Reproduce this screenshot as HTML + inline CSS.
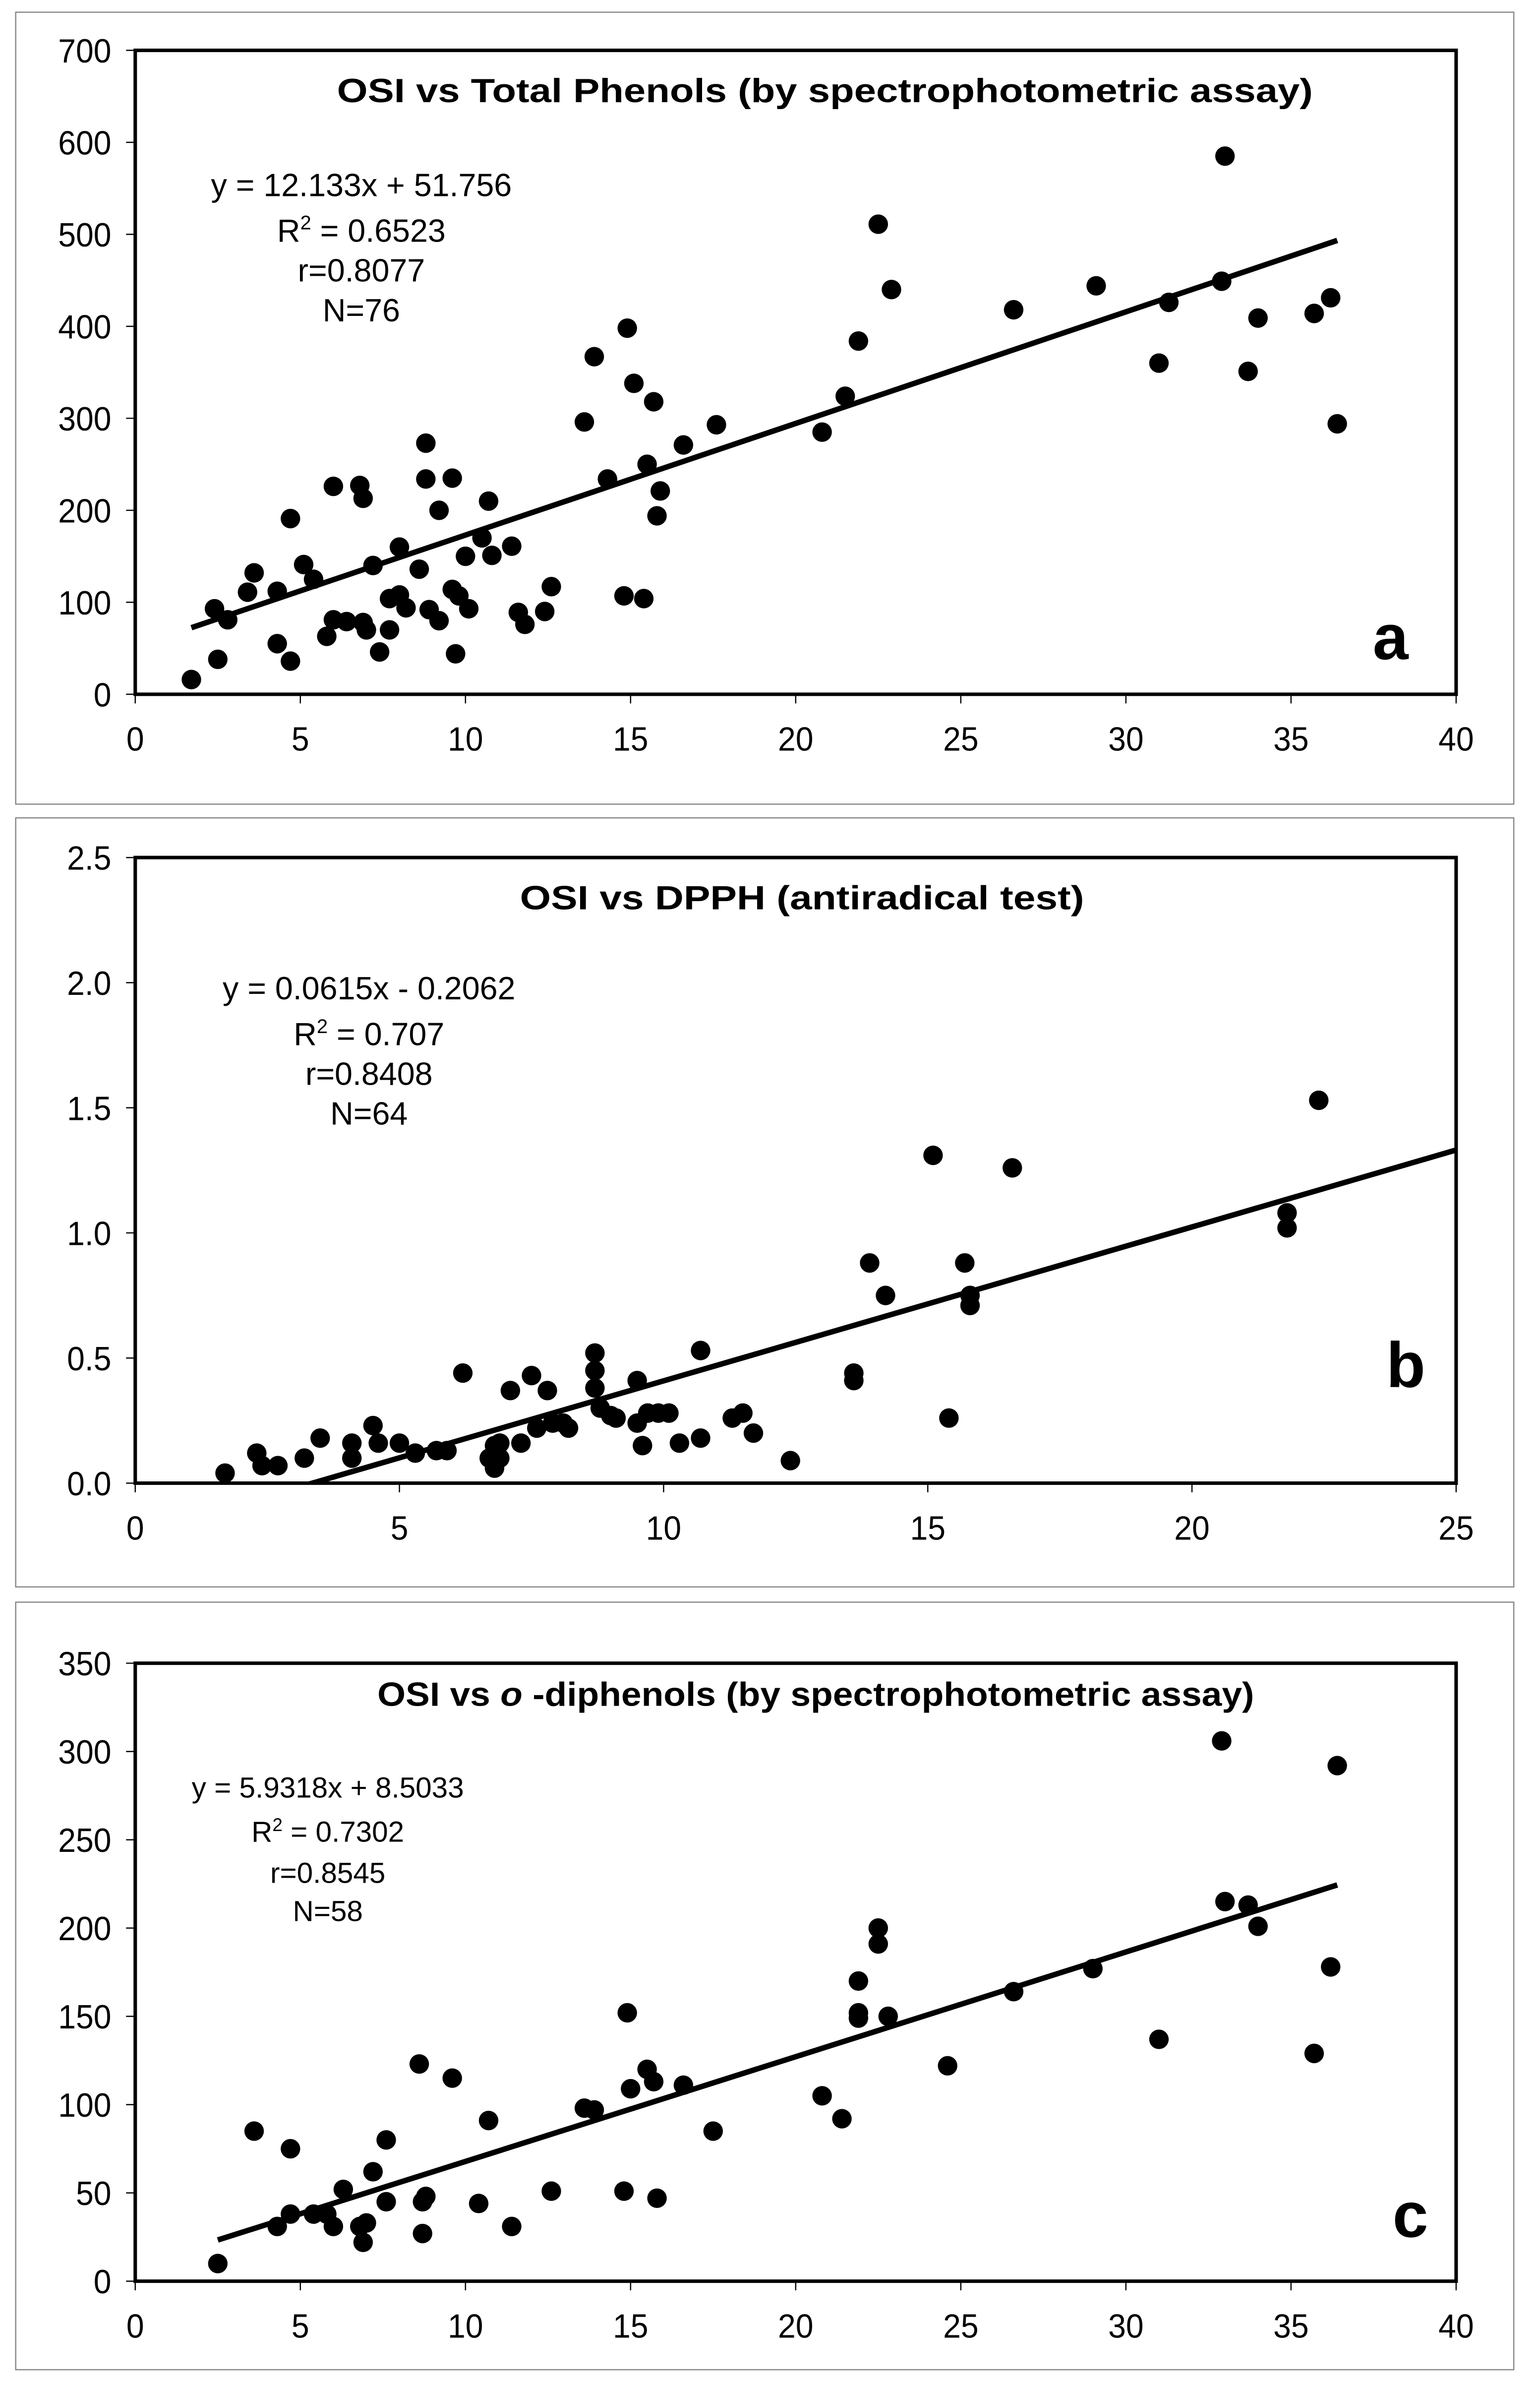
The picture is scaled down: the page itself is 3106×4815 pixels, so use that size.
<!DOCTYPE html>
<html><head><meta charset="utf-8"><style>
html,body{margin:0;padding:0;background:#fff}
svg{display:block}
text{font-family:"Liberation Sans",Arial,sans-serif;fill:#000}
</style></head><body>
<svg id="fig" width="3106" height="4815" viewBox="0 0 1010 1565" preserveAspectRatio="none" xmlns="http://www.w3.org/2000/svg"></svg>
<script>
// Panel a: OSI vs Total Phenols
const aX=[1.7,2.4,2.5,2.8,3.4,3.6,4.3,4.3,4.7,4.7,5.1,5.4,5.8,6.0,6.0,6.4,6.8,6.9,6.9,7.0,7.2,7.4,7.7,7.7,8.0,8.0,8.2,8.6,8.8,8.8,8.9,9.2,9.2,9.6,9.6,9.8,9.7,10.0,10.1,10.5,10.7,10.8,11.4,11.6,11.8,12.4,12.6,13.6,13.9,14.3,14.8,14.9,15.1,15.4,15.5,15.7,15.9,15.8,16.6,17.6,20.8,21.5,21.9,22.5,22.9,26.6,29.1,31.0,31.3,32.9,33.0,33.7,34.0,35.7,36.2,36.4];
const aY=[16,93,38,81,111,132,112,55,36,191,141,125,63,81,226,79,227,78,213,70,140,46,104,70,160,108,94,136,273,234,92,200,80,114,235,107,44,150,93,170,210,151,161,89,76,90,117,296,367,234,107,398,338,104,250,318,221,194,271,293,285,324,384,511,440,418,444,360,426,449,585,351,409,414,431,294];
const aXTicks=[0,5,10,15,20,25,30,35,40];
const aYTicks=[0,100,200,300,400,500,600,700];
// Panel b: OSI vs DPPH
const bX=[1.7,2.3,2.4,2.7,3.2,3.5,4.1,4.1,4.5,4.6,5.0,5.3,5.7,5.9,6.2,6.7,6.8,6.8,6.9,6.9,7.1,7.3,7.5,7.6,7.8,7.9,8.1,8.2,8.7,8.7,8.7,8.8,9.0,9.1,9.5,9.5,9.6,9.7,9.9,10.1,10.3,10.7,10.7,11.3,11.5,11.7,12.4,13.6,13.6,13.9,14.2,15.4,15.1,15.7,15.8,15.8,16.6,21.8,21.8,22.4];
const bY=[0.04,0.12,0.07,0.07,0.10,0.18,0.16,0.10,0.23,0.16,0.16,0.12,0.13,0.13,0.44,0.10,0.06,0.15,0.16,0.10,0.37,0.16,0.43,0.22,0.37,0.24,0.24,0.22,0.52,0.45,0.38,0.30,0.27,0.26,0.41,0.24,0.15,0.28,0.28,0.28,0.16,0.53,0.18,0.26,0.28,0.20,0.09,0.44,0.41,0.88,0.75,0.26,1.31,0.88,0.71,0.75,1.26,1.08,1.02,1.53];
const bXTicks=[0,5,10,15,20,25];
const bYTicks=[0,0.5,1.0,1.5,2.0,2.5];
const bYLabels=["0.0","0.5","1.0","1.5","2.0","2.5"];
// Panel c: OSI vs o-diphenols
const cX=[2.5,3.6,4.3,4.7,4.7,5.4,5.8,6.0,6.3,6.8,6.9,7.0,7.2,7.6,7.6,8.6,8.7,8.7,8.8,9.6,10.4,10.7,11.4,12.6,13.6,13.9,14.8,14.9,15.0,15.5,15.7,15.8,16.6,17.5,20.8,21.4,21.9,21.9,21.9,22.5,22.5,22.8,24.6,26.6,29.0,31.0,32.9,33.0,33.7,34.0,35.7,36.2,36.4];
const cY=[10,85,31,75,38,38,38,31,52,31,22,33,62,80,45,123,27,45,48,115,44,91,31,51,98,97,51,152,109,120,113,47,111,85,105,92,170,152,149,200,191,150,122,164,177,137,306,215,213,201,129,178,292];
const cXTicks=[0,5,10,15,20,25,30,35,40];
const cYTicks=[0,50,100,150,200,250,300,350];

const NS="http://www.w3.org/2000/svg";
const svg=document.getElementById('fig');
function mk(tag,attrs,parent){const e=document.createElementNS(NS,tag);for(const k in attrs)e.setAttribute(k,attrs[k]);(parent||svg).appendChild(e);return e;}

function panel(cfg){
  const g=mk('g',{});
  
  
  const frame=mk('rect',{x:10.3,y:cfg.boxTop,width:982.5,height:cfg.boxH,fill:'none',stroke:'#888',"stroke-width":0.8},g);
  
  
  const L=88.7,R=955,T=cfg.top,B=cfg.bottom;
  const sx=v=>L+(v-cfg.xmin)/(cfg.xmax-cfg.xmin)*(R-L);
  const sy=v=>B-(v-cfg.ymin)/(cfg.ymax-cfg.ymin)*(B-T);
  cfg.yTicks.forEach((t,i)=>{
    const tk=mk('line',{x1:L-6,x2:L,y1:sy(t),y2:sy(t),stroke:'#000',"stroke-width":0.8},g);
    
    
    const tx=mk('text',{x:73,y:sy(t)+8,"text-anchor":"end","font-size":22,transform:`translate(73,0) scale(0.95,1) translate(-73,0)`},g);
    tx.textContent=cfg.yLabels?cfg.yLabels[i]:String(t);
    
    
  });
  cfg.xTicks.forEach(t=>{
    const tk=mk('line',{x1:sx(t),x2:sx(t),y1:B,y2:B+6,stroke:'#000',"stroke-width":0.8},g);
    
    
    const tx=mk('text',{x:sx(t),y:B+37,"text-anchor":"middle","font-size":22,transform:`translate(${sx(t)},0) scale(0.95,1) translate(${-sx(t)},0)`},g);
    tx.textContent=String(t);
    
    
  });
  const ax=mk('rect',{x:L,y:T,width:R-L,height:B-T,fill:'none',stroke:'#000',"stroke-width":2.3},g);
  
  
  const cid='clip'+cfg.name;
  const cp=mk('clipPath',{id:cid},g);mk('rect',{x:L,y:T,width:R-L,height:B-T},cp);
  const pg=mk('g',{"clip-path":`url(#${cid})`},g);
  cfg.xs.forEach((x,i)=>{
    const c=mk('circle',{cx:sx(x),cy:sy(cfg.ys[i]),r:6.4,fill:'#000'},pg);
    
    
  });
  let x0=cfg.lx0,x1=cfg.lx1;
  const ln=mk('line',{x1:sx(x0),y1:sy(cfg.m*x0+cfg.b),x2:sx(x1),y2:sy(cfg.m*x1+cfg.b),stroke:'#000',"stroke-width":3.6},pg);
  
  
  const tt=mk('text',{x:cfg.titleX,y:cfg.titleY,"text-anchor":"middle","font-size":22,"font-weight":"bold",textLength:cfg.titleW,lengthAdjust:"spacingAndGlyphs"},g);
  tt.innerHTML=cfg.title;
  
  
  cfg.eq.forEach((line,i)=>{
    const e=mk('text',{x:cfg.eqX,y:cfg.eqY[i],"text-anchor":"middle","font-size":cfg.eqFs},g);
    e.innerHTML=line;
    
    
  });
  const lb=mk('text',{x:cfg.labX,y:cfg.labY,"text-anchor":"middle","font-size":42,"font-weight":"bold"},g);
  lb.textContent=cfg.label;
  
  
}

panel({name:'panel-a',boxTop:8,boxH:519,top:33,bottom:455,xmin:0,xmax:40,ymin:0,ymax:700,
  xs:aX,ys:aY,xTicks:aXTicks,yTicks:aYTicks,m:12.133,b:51.756,lx0:1.7,lx1:36.4,
  title:'OSI vs Total Phenols (by spectrophotometric assay)',titleX:541,titleY:67,titleW:640,
  eq:['y = 12.133x + 51.756','R<tspan dy="-8" font-size="13">2</tspan><tspan dy="8"> = 0.6523</tspan>','r=0.8077','N=76'],
  eqX:237,eqY:[128.5,158.4,184.4,210.7],eqFs:21,label:'a',labX:912,labY:432});
panel({name:'panel-b',boxTop:536,boxH:504,top:562,bottom:972,xmin:0,xmax:25,ymin:0,ymax:2.5,
  xs:bX,ys:bY,xTicks:bXTicks,yTicks:bYTicks,yLabels:bYLabels,m:0.0615,b:-0.2062,lx0:0,lx1:25,
  title:'OSI vs DPPH (antiradical test)',titleX:526,titleY:596,titleW:370,
  eq:['y = 0.0615x - 0.2062','R<tspan dy="-8" font-size="13">2</tspan><tspan dy="8"> = 0.707</tspan>','r=0.8408','N=64'],
  eqX:242,eqY:[655,685,711,737],eqFs:21,label:'b',labX:922,labY:909});
panel({name:'panel-c',boxTop:1050,boxH:503,top:1090,bottom:1495,xmin:0,xmax:40,ymin:0,ymax:350,
  xs:cX,ys:cY,xTicks:cXTicks,yTicks:cYTicks,m:5.9318,b:8.5033,lx0:2.5,lx1:36.4,
  title:'OSI vs <tspan font-style="italic">o</tspan> -diphenols (by spectrophotometric assay)',titleX:535,titleY:1118,titleW:575,
  eq:['y = 5.9318x + 8.5033','R<tspan dy="-7" font-size="12">2</tspan><tspan dy="7"> = 0.7302</tspan>','r=0.8545','N=58'],
  eqX:215,eqY:[1178,1207,1234,1259],eqFs:19,label:'c',labX:925,labY:1466});
</script>
</body></html>
